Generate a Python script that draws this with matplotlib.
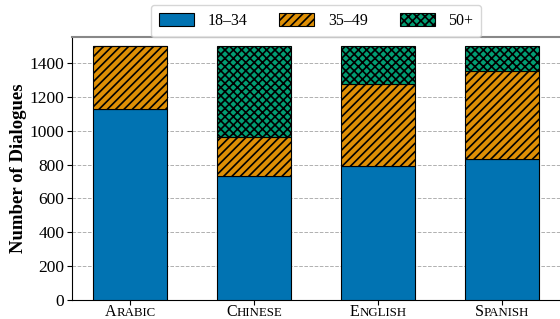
import matplotlib
matplotlib.use("Agg")
import matplotlib.pyplot as plt
import matplotlib.transforms as mtransforms
import numpy as np

plt.rcParams['font.family'] = ['Liberation Serif', 'DejaVu Serif']
plt.rcParams['hatch.linewidth'] = 1.2

languages = ["Arabic", "Chinese", "English", "Spanish"]
age_groups = ["18–34", "35–49", "50+"]
v_18_34 = [1130, 730, 790, 830]
v_35_49 = [370, 230, 485, 520]
v_50p = [0, 540, 225, 150]
yticks = [0, 200, 400, 600, 800, 1000, 1200, 1400]

colors = ["#0173b2", "#de8f05", "#029e73"]
hatches = [None, "////", "xxxx"]

fig = plt.figure(figsize=(5.6, 3.19), dpi=100)
ax = fig.add_axes([72/560, 1 - 300/319, 1 - 72/560, (300-37)/319])

x = np.arange(len(languages))
bottom = np.zeros(len(languages))
series = [v_18_34, v_35_49, v_50p]
for vals, lab, c, h in zip(series, age_groups, colors, hatches):
    ax.bar(x, vals, 0.6, bottom=bottom, color=c, edgecolor="black",
           linewidth=0.8, hatch=h, label=lab, zorder=3)
    bottom += np.array(vals)

ax.set_xlim(-0.47, 3.47)
ax.set_ylim(0, 1553)
ax.set_yticks(yticks)
ax.tick_params(axis='y', labelsize=12.5, pad=2)
ax.yaxis.grid(True, linestyle='--', color='#b0b0b0', linewidth=0.7, zorder=0)
ax.set_axisbelow(True)
ax.set_ylabel("Number of Dialogues", fontsize=13.5, fontweight='bold')
ax.yaxis.set_label_coords((27 - 72) / 488, 0.5)
ax.spines['top'].set_color('#888888')
ax.spines['top'].set_linewidth(1.5)
ax.spines['right'].set_visible(False)

ax.set_xticks(x)
ax.set_xticklabels([""] * len(languages))

# small-caps style category labels
base = mtransforms.blended_transform_factory(ax.transData, ax.transAxes)
renderer = fig.canvas.get_renderer()
for xi, name in zip(x, languages):
    up = name.upper()
    t1 = ax.text(xi, 0, up[0], fontsize=11.5, va='baseline', ha='left', transform=base)
    t2 = ax.text(xi, 0, up[1:], fontsize=9.3, va='baseline', ha='left', transform=base)
    w1 = t1.get_window_extent(renderer).width
    w2 = t2.get_window_extent(renderer).width
    tot = w1 + w2
    dy = -15.5 / fig.dpi
    t1.set_transform(base + mtransforms.ScaledTranslation(-tot / 2 / fig.dpi, dy, fig.dpi_scale_trans))
    t2.set_transform(base + mtransforms.ScaledTranslation((-tot / 2 + w1) / fig.dpi, dy, fig.dpi_scale_trans))

leg = ax.legend(loc='center', ncol=3, fontsize=11.5, frameon=True,
                handlelength=2.2, handleheight=0.8, handletextpad=0.85,
                columnspacing=2.0, borderpad=0.5)
leg.set_bbox_to_anchor((316/560, 1 - 21/319), transform=fig.transFigure)

fig.savefig("out.png", dpi=100)
